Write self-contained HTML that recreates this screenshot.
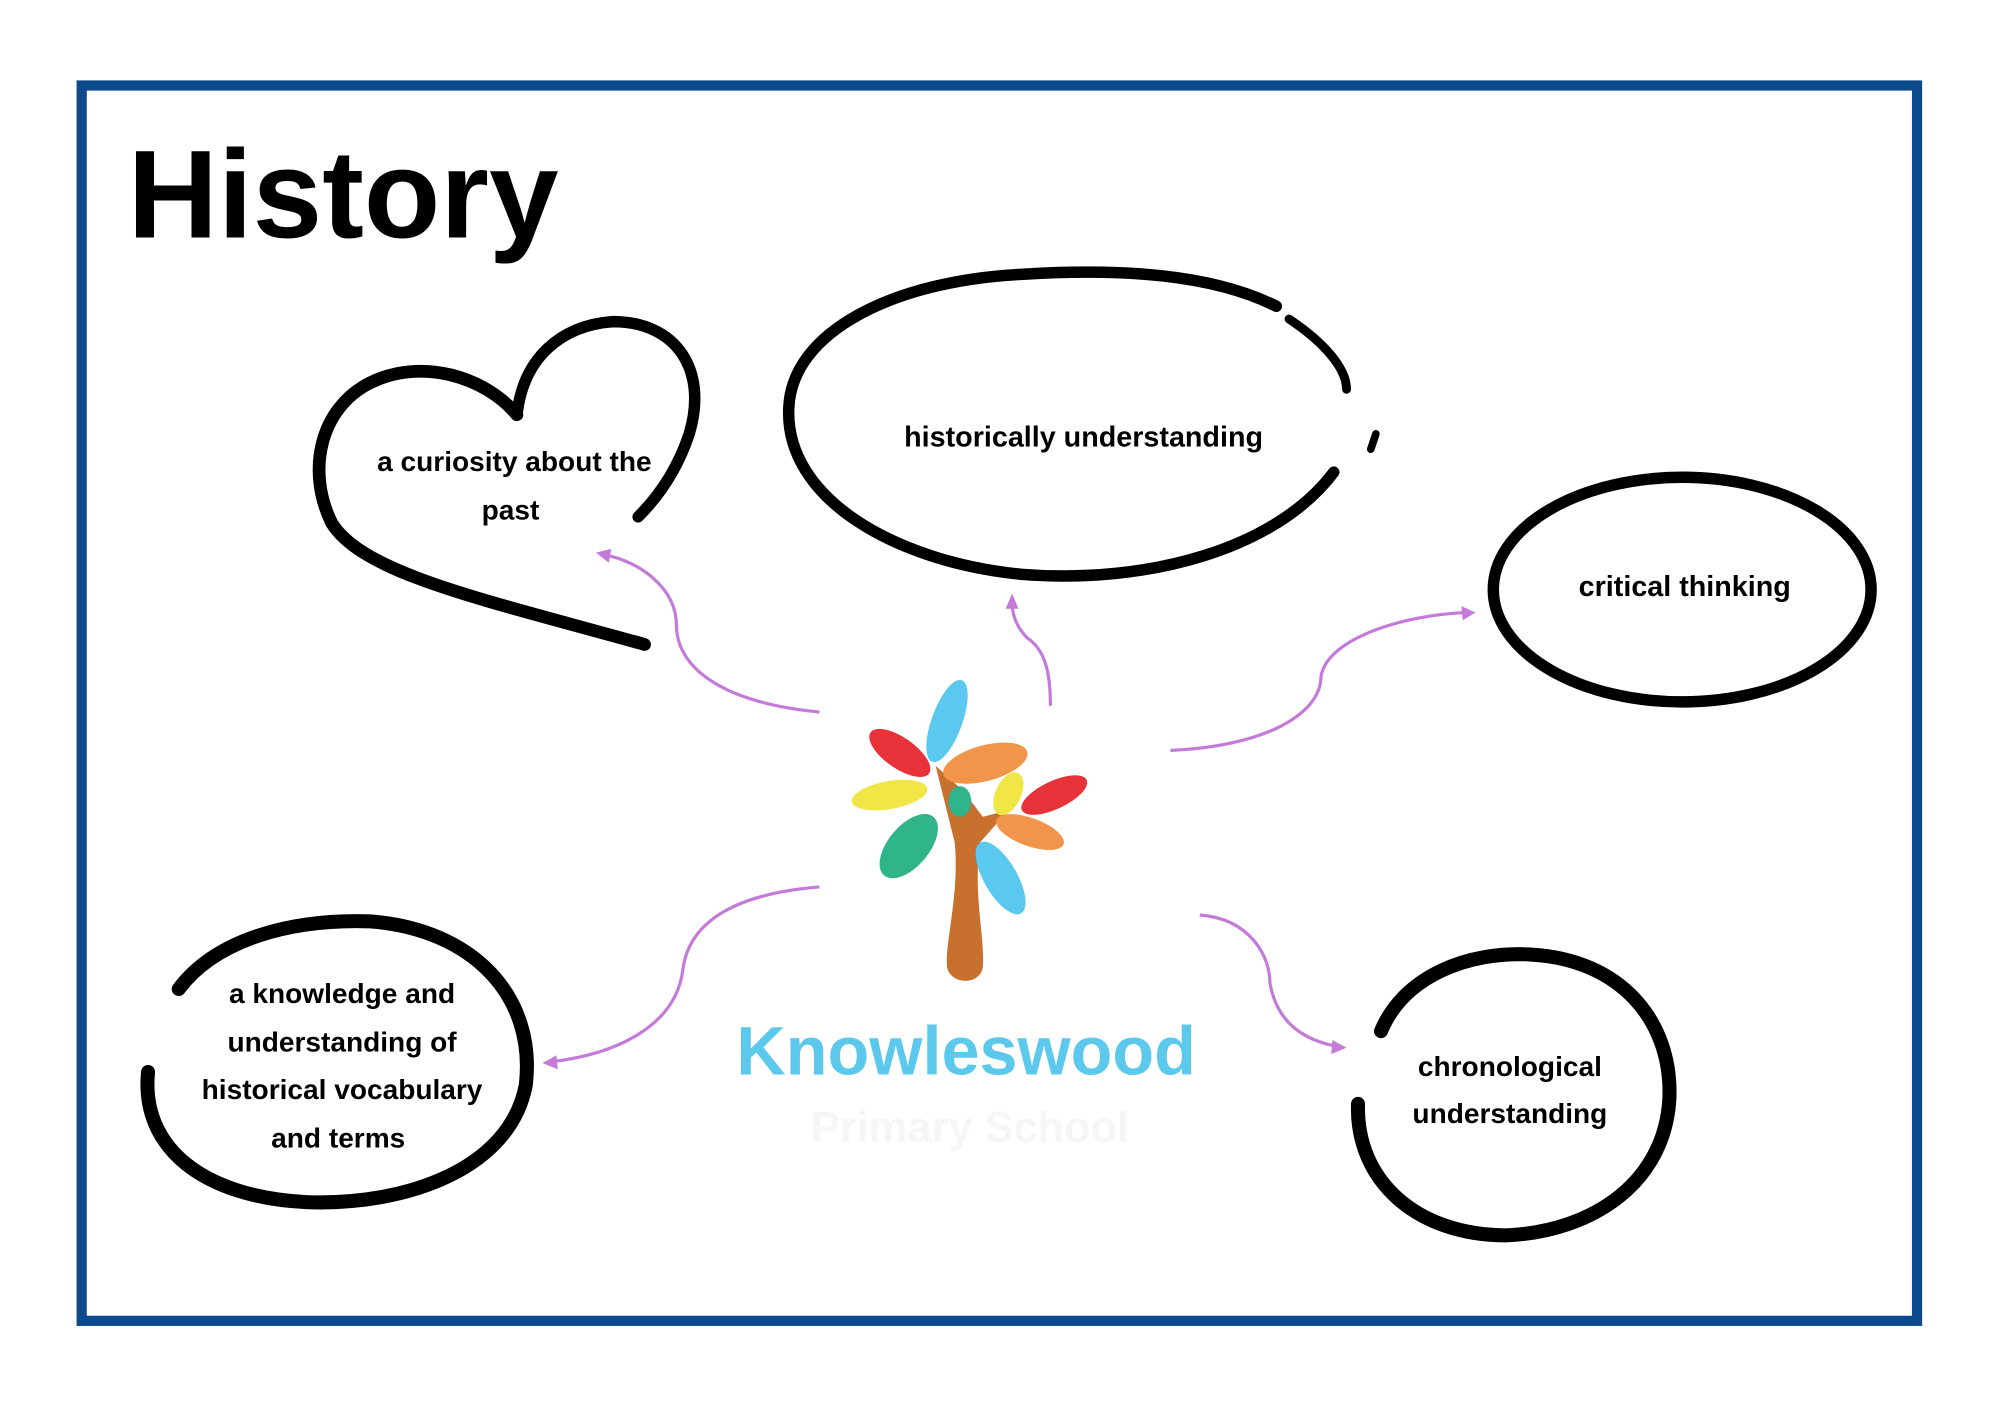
<!DOCTYPE html>
<html><head><meta charset="utf-8"><style>
html,body{margin:0;padding:0;background:#fff}
svg{display:block}
text{font-family:"Liberation Sans",sans-serif}
</style></head><body>
<svg width="2000" height="1414" viewBox="0 0 1567 1108" preserveAspectRatio="none" xmlns="http://www.w3.org/2000/svg">
<rect x="0" y="0" width="1567" height="1108" fill="#fff"/>
<rect x="64" y="67" width="1438" height="968" fill="none" stroke="#0d4a8c" stroke-width="8"/>
<text x="100" y="186" font-size="98" font-weight="bold" fill="#000">History</text>

<!-- heart -->
<path d="M405 325 C380 295 330 280 290 300 C250 320 240 370 260 410 C285 450 380 470 505 505" fill="none" stroke="#000" stroke-width="10" stroke-linecap="round"/>
<path d="M405 325 C410 280 440 255 480 252 C530 252 555 290 540 340 C530 370 515 390 500 405" fill="none" stroke="#000" stroke-width="9" stroke-linecap="round"/>
<text x="403" y="369" font-size="22" font-weight="bold" text-anchor="middle">a curiosity about the</text>
<text x="400" y="407" font-size="22" font-weight="bold" text-anchor="middle">past</text>

<!-- top ellipse -->
<path d="M1000 240 C950 215 880 210 800 215 C700 220 620 260 618 320 C615 390 700 440 800 450 C900 458 1000 430 1045 370" fill="none" stroke="#000" stroke-width="9" stroke-linecap="round"/>
<path d="M1010 250 C1040 270 1055 290 1055 305" fill="none" stroke="#000" stroke-width="7" stroke-linecap="round"/>
<path d="M1078 340 L1074 352" stroke="#000" stroke-width="6" stroke-linecap="round"/>
<text x="849" y="350" font-size="22.5" font-weight="bold" text-anchor="middle">historically understanding</text>

<!-- right ellipse -->
<ellipse cx="1318" cy="462" rx="148" ry="88" fill="none" stroke="#000" stroke-width="9"/>
<text x="1320" y="467" font-size="22.5" font-weight="bold" text-anchor="middle">critical thinking</text>

<!-- bottom left -->
<path d="M140 775 C170 735 230 720 290 722 C370 728 420 780 412 850 C400 915 320 945 240 942 C160 938 110 900 116 840" fill="none" stroke="#000" stroke-width="11" stroke-linecap="round"/>
<text x="268" y="786" font-size="22" font-weight="bold" text-anchor="middle">a knowledge and</text>
<text x="268" y="824" font-size="22" font-weight="bold" text-anchor="middle">understanding of</text>
<text x="268" y="861" font-size="22" font-weight="bold" text-anchor="middle">historical vocabulary</text>
<text x="265" y="899" font-size="22" font-weight="bold" text-anchor="middle">and terms</text>

<!-- bottom right -->
<path d="M1082 808 C1100 765 1150 745 1200 748 C1270 752 1310 800 1308 860 C1305 925 1250 965 1180 968 C1110 968 1062 925 1064 865" fill="none" stroke="#000" stroke-width="11" stroke-linecap="round"/>
<text x="1183" y="843" font-size="22" font-weight="bold" text-anchor="middle">chronological</text>
<text x="1183" y="880" font-size="22" font-weight="bold" text-anchor="middle">understanding</text>

<!-- arrows -->
<g fill="none" stroke="#c47ad9" stroke-width="2.5">
<path d="M642 558 C560 550 530 520 530 490 C530 460 500 440 475 435"/>
<path d="M823 553 C823 530 820 510 805 500 C795 490 793 480 793 472"/>
<path d="M917 588 C990 585 1035 560 1035 530 C1040 500 1100 482 1148 480"/>
<path d="M642 695 C580 700 540 720 535 760 C530 800 490 825 432 832"/>
<path d="M940 717 C980 720 995 750 995 770 C1000 800 1020 815 1048 820"/>
</g>
<g fill="#c47ad9">
<polygon points="467,433 479,430 477,441"/>
<polygon points="793,465 788,477 798,477"/>
<polygon points="1156,480 1145,475 1146,486"/>
<polygon points="425,833 436,827 437,838"/>
<polygon points="1055,821 1044,815 1043,826"/>
</g>

<!-- logo tree -->
<path d="M733 600 L748 660 C752 700 740 740 742 758 C745 772 768 772 770 758 C772 735 762 700 768 660 L790 635 L770 640 L755 620 Z" fill="#c8702e"/>
<ellipse cx="742" cy="565" rx="12" ry="34" transform="rotate(20 742 565)" fill="#5bc8ef"/>
<ellipse cx="705" cy="590" rx="28" ry="12" transform="rotate(35 705 590)" fill="#e8323a"/>
<ellipse cx="772" cy="598" rx="34" ry="14" transform="rotate(-15 772 598)" fill="#f0954a"/>
<ellipse cx="697" cy="623" rx="30" ry="11" transform="rotate(-10 697 623)" fill="#f0e646"/>
<ellipse cx="826" cy="623" rx="28" ry="11" transform="rotate(-25 826 623)" fill="#e8323a"/>
<ellipse cx="790" cy="622" rx="10" ry="18" transform="rotate(25 790 622)" fill="#f0e646"/>
<ellipse cx="752" cy="628" rx="9" ry="12" fill="#2fb589"/>
<ellipse cx="712" cy="663" rx="16" ry="30" transform="rotate(40 712 663)" fill="#2fb589"/>
<ellipse cx="807" cy="652" rx="28" ry="11" transform="rotate(20 807 652)" fill="#f0954a"/>
<ellipse cx="784" cy="688" rx="13" ry="32" transform="rotate(-30 784 688)" fill="#5bc8ef"/>
<text x="577" y="842" font-size="54" font-weight="bold" fill="#5bc8ec" textLength="360" lengthAdjust="spacingAndGlyphs">Knowleswood</text>
<text x="760" y="895" font-size="34" font-weight="bold" fill="#f6f6f6" text-anchor="middle">Primary School</text>
</svg>
</body></html>
